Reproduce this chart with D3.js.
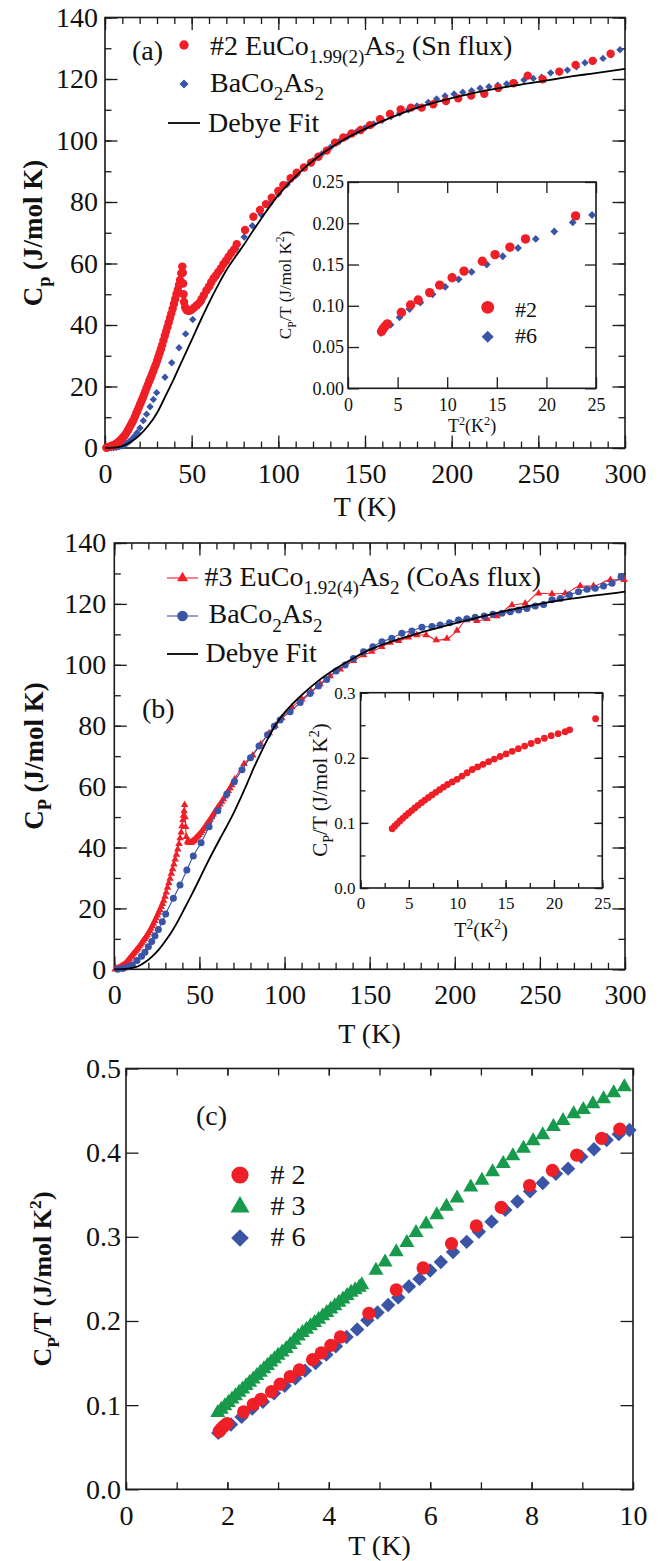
<!DOCTYPE html>
<html>
<head>
<meta charset="utf-8">
<script src="https://cdn.jsdelivr.net/npm/d3@7"></script>
<style>
body { margin: 0; background: #fff; }
text { font-family: "Liberation Serif", "Times New Roman", serif; fill: #111; }
</style>
</head>
<body>
<script>
// ---- panel (a): Cp vs T, #2 EuCo1.99(2)As2 (Sn flux), BaCo2As2, Debye fit
var tA2 = [0.75,1.5,2.25,3,3.75,4.5,5.25,6,6.75,7.5,8.25,9,9.75,10.5,11.25,12,12.75,13.5,14.25,15,15.75,16.5,17.25,18,18.75,19.5,
  20.25,21,21.75,22.5,23.25,24,24.75,25.5,26.25,27,27.75,28.5,29.25,30,30.75,31.5,32.25,33,33.75,34.5,35.25,36,36.75,37.5,
  38.25,39,39.75,40.5,41.25,42,42.7,
  43.3,44,44.6,44.9,45.1,45.3,45.6,46.2,47,48,49,50,
  51.5,53,54.4,55.7,57,58.5,60,61.3,62.7,64,65.3,66.8,68.3,69.8,71.3,72.8,74.5,76,
  80.8,85.6,89.4,92.9,96.2,100,102.9,107.1,110.6,114.8,118.8,123.1,127.9,132.7,137.5,142.3,147.5,152.9,158.7,164.4,
  170.6,176.5,182.7,189.4,196.7,203.8,211.2,218.8,226.9,235.6,243.9,252.5,262.1,271.5,281.3,291.7];
var cA2 = [0.1,0.2,0.35,0.5,0.65,0.8,1.0,1.2,1.5,1.8,2.2,2.6,3.0,3.5,4.0,4.6,5.3,6.0,6.8,7.6,8.4,9.2,10.2,11.2,12.2,13.2,
  14.2,15.2,16.2,17.3,18.4,19.5,20.6,21.7,22.7,23.8,24.9,26.0,27.1,28.3,29.5,30.8,32.1,33.5,35,36.5,37.9,39.3,40.8,42.3,
  43.7,45.2,46.8,48.4,50,51.5,53,
  54.6,56.8,59,57,53.5,50,47.5,45.8,44.9,44.6,44.7,45.0,
  45.7,46.4,47.2,48.4,49.7,51.2,52.5,53.9,55.2,56.1,57.2,58.4,59.8,60.9,62.2,63.4,64.6,66.3,
  70.9,75.2,77.4,79.3,81.4,83.6,85.5,87.7,89.5,91.2,92.8,94.7,96.7,99.3,101,102.3,103.4,105,106.9,108.6,
  110.1,110.7,110.7,111.8,112.8,113.7,114.6,115.2,117.1,118.6,121.1,119.9,122.4,124.6,125.9,128.2];
var tABa = [2,3.5,5,6.5,8,9.5,11,12.5,14,15.5,17,18.5,20.2,22.1,24,26,27.9,29.8,
  34.6,38.5,42.7,46.5,50.6,55.4,60.6,65.8,70.8,75.5,80.3,
  85,90,95,100,105,110,115,120,125,130,135,140,145,150,155,160,165,170,175,180,
  186.5,191.3,196.2,201.4,206.4,211.5,216.4,221.5,226.6,231.7,236.5,241.7,247.1,251.9,257.1,262,266.8,272,276.9,282,287.3,292,297.1];
var cABa = [0,0.05,0.1,0.2,0.4,0.65,1.0,1.5,2.1,2.9,3.8,5.0,6.5,8.9,11,13.4,15.8,18,
  23,27.7,32.6,37.1,41.8,47.3,52.3,57,61.7,64.8,68.6,
  72.3,76,79.4,82.6,85.7,88.5,91.1,93.4,95.6,97.7,99.6,101.3,102.8,104.1,105.4,106.6,107.8,108.9,110,111.2,
  112.4,113.5,114.5,115.1,115.7,116.2,117,117.5,118,118.4,118.8,119.7,120.2,120.6,122,122.3,122.9,124,125.3,126,126.7,127.9,129.5];
var tADeb = [0,5,10,15,20,25,30,35,40,45,50,55,60,65,70,75,80,85,90,95,100,105,110,115,120,125,130,
  140,150,160,170,180,190,200,210,220,230,240,250,260,270,280,290,300];
var cADeb = [0,0.1,0.6,2.0,4.2,7.3,11.4,17.0,22.8,29,35.1,41.3,47.2,52.7,57.8,62,66,70.3,74.5,78.5,82.2,85.4,88.3,91,93.4,95.6,97.6,
  101,103.8,106.3,108.6,110.6,112.3,113.8,115.1,116.3,117.3,118.2,119.1,120,120.9,121.7,122.5,123.3];

// ---- panel (b): Cp vs T, #3 EuCo1.92(4)As2 (CoAs flux), BaCo2As2, Debye fit
var tB3 = [0.5,1.25,2,2.75,3.5,4.25,5,5.75,6.5,7.25,8,8.75,9.5,10.25,11,11.75,12.5,13.25,14,14.75,15.5,16.25,17,17.75,18.5,
  19.25,20,20.75,21.5,22.25,23,23.75,24.5,25.25,26,26.75,27.5,28.25,29,29.75,30.5,31.25,32,32.75,33.5,34.25,35,35.75,36.5,37.25,38,
  38.65,39.3,39.8,40.3,40.65,41,41.3,41.6,41.9,42.3,
  43,43.5,44,44.5,45,45.5,46,46.5,47,47.6,48.3,49,49.8,50.6,51.5,52.4,53.3,54.2,55.2,56.2,
  57.2,58.1,59.1,60.1,61.1,62.1,63.1,64.1,65.1,66,67,68,69,69.9,70.8,
  76.2,81.3,86,91,94.5,98.4,
  104.3,110.1,115.6,120.9,126.8,132.7,140.5,146.4,151.3,157.2,162.1,167,172.8,177.7,183.2,189.1,195.4,201.3,
  207.1,213,218.9,224.8,233.6,241.4,249.2,257.1,264.9,273.7,281.5,291.4,299.5];
var cB3 = [0,0.15,0.3,0.5,0.7,0.95,1.2,1.55,1.9,2.4,2.9,3.4,3.9,4.45,5.0,5.5,6.0,6.5,7.0,7.6,8.2,8.8,9.4,10.0,10.6,
  11.25,11.9,12.65,13.4,14.2,15.0,15.9,16.8,17.7,18.6,19.55,20.5,21.5,22.6,23.9,25.3,26.8,28.3,29.8,31.4,32.9,34.5,36.1,37.7,39.4,41.2,
  43.1,45,47,49,50.5,52,54,50,46.8,43.5,
  42,41.7,41.5,41.5,41.6,41.8,42,42.2,42.5,42.9,43.3,43.7,44.2,44.8,45.4,46.1,46.8,47.6,48.4,49.2,
  50.1,50.9,51.8,52.6,53.4,54.2,55.1,55.9,56.8,57.7,58.6,59.5,60.5,61.5,62.5,
  67.5,70.3,74,77.6,80,82.5,
  86.1,88.7,91.2,93.7,96.3,98.5,101.3,103.2,104.3,105.9,107.3,107.9,109,109.8,109.8,108.1,108.6,111.2,
  114.7,114.4,115.1,116,119.6,120.2,123.5,123.3,123.5,125.9,125.9,127.9,127.9];
var tBBa = [2,5,8,10.6,13.3,16,18,20,22,23.9,25.9,28.2,30.2,34.7,38.6,42.6,46.4,51,55.7,60.8,
  66.1,70.5,75,80,85,90,94,97.4,103.3,109.2,115,119.9,124.8,130.3,135.6,140.5,146.4,151.9,157.2,163,
  168.9,174.8,180.7,186.6,191.4,196.9,202.2,207.1,212,217.3,222.4,227.7,232.6,237.5,242.4,247.3,252.2,257.1,262,267.4,
  272.7,277.7,282.5,287.4,292.4,297.7];
var cBBa = [0,0.3,0.8,1.5,2.9,4.3,5.6,7.4,9.1,11,13.1,15.6,18.2,23.3,27.7,32.6,37.2,41.6,46.8,52.1,
  57.6,61.6,65.5,69.5,73.3,77,79.8,81.9,84.6,87.6,90.6,93,95.2,98,99.9,102.1,104.3,105.9,107.6,108.7,
  110.4,111.1,112.3,112.6,113.1,113.8,114.7,115.1,115.6,116,116.6,116.9,117.4,118,118.5,119.3,119.8,121.4,121.8,122.9,
  124,124.8,125.1,125.9,126.8,128.9];
var tBDeb = [0,5,10,14,18,22,26,30,34,38,42,46,50,54,58,62,66,70,74,78,82,86,90,95,100,105,110,115,120,130,
  140,150,160,170,180,190,200,210,220,230,240,250,260,270,280,290,300];
var cBDeb = [0,0.05,0.4,1.0,2.3,4.1,6.4,9.3,12.6,16.5,20.8,25.1,29.6,34.2,38.6,42.8,46.9,51.2,56,61,66.2,71,75.5,80.5,84.3,87.3,90,92.5,94.8,98.7,
  102,104.9,107.1,108.9,110.6,112.1,113.6,115,116.4,117.7,118.9,120,121,121.8,122.6,123.3,124];

// ---- panel (c): Cp/T vs T for samples #2, #3, #6 (insets use T^2 of the same points)
var tC2 = [1.84,1.88,1.93,1.99,2.32,2.51,2.66,2.87,3.04,3.24,3.42,3.68,3.85,4.04,4.23,4.79,5.33,5.86,6.42,6.91,7.40,7.96,8.41,8.89,9.38,9.74];
var cC2 = [0.069,0.072,0.075,0.078,0.092,0.101,0.107,0.116,0.125,0.134,0.142,0.154,0.162,0.171,0.181,0.209,0.237,0.263,0.292,0.313,0.335,0.361,0.379,0.397,0.417,0.428];
var tC3 = [1.81,1.88,1.95,2.02,2.09,2.16,2.23,2.30,2.37,2.44,2.51,2.58,2.65,2.72,2.79,2.86,2.93,3.00,
  3.08,3.16,3.24,3.32,3.40,3.48,3.56,3.64,3.72,3.80,3.88,3.96,4.04,4.12,4.20,4.28,4.36,4.44,4.52,4.60,4.65,
  4.93,5.11,5.33,5.54,5.72,5.92,6.13,6.32,6.53,6.80,7.02,7.23,7.44,7.63,7.84,8.03,8.22,8.43,8.62,8.83,9.02,9.21,9.42,9.62,9.83];
var cC3 = [0.091,0.095,0.099,0.103,0.107,0.111,0.115,0.119,0.123,0.127,0.131,0.135,0.139,0.143,0.147,0.151,0.155,0.159,
  0.163,0.167,0.172,0.177,0.182,0.186,0.190,0.194,0.198,0.202,0.206,0.210,0.214,0.218,0.222,0.226,0.230,0.234,0.237,0.240,0.243,
  0.260,0.270,0.282,0.293,0.305,0.315,0.326,0.336,0.346,0.359,0.367,0.377,0.387,0.396,0.405,0.414,0.421,0.431,0.438,0.446,0.451,0.458,0.464,0.471,0.478];
var tC6 = [1.82,2.07,2.28,2.49,2.70,2.92,3.13,3.34,3.53,3.74,3.95,4.14,4.35,4.56,4.76,4.96,
  5.17,5.37,5.58,5.79,6.00,6.21,6.45,6.72,6.96,7.21,7.48,7.72,7.97,8.22,8.48,8.72,8.98,9.23,9.48,9.72,9.93];
var cC6 = [0.067,0.077,0.086,0.096,0.104,0.114,0.123,0.132,0.141,0.150,0.160,0.170,0.181,0.190,0.201,0.210,
  0.219,0.228,0.241,0.250,0.260,0.270,0.282,0.294,0.306,0.318,0.332,0.342,0.354,0.364,0.375,0.381,0.395,0.404,0.415,0.422,0.427];

var RED = "#ee1f26", BLUE = "#3a54a6", GREEN = "#179a4b", INK = "#1a1a1a";
var SERIF = '"Liberation Serif", "Times New Roman", serif';

var svg = d3.select("body").append("svg").attr("width", 671).attr("height", 1561);

function zip(t, c) { return t.map((d, i) => ({ x: d, y: c[i] })); }
function sq(t, c) { return zip(t, c).map(d => ({ x: d.x * d.x, y: d.y })).filter(d => d.x <= 25); }
function diamond(h) { return `M0,${-h}L${h},0L0,${h}L${-h},0Z`; }
function triangle(s) { return `M0,${-s * 0.577}L${s / 2},${s * 0.289}L${-s / 2},${s * 0.289}Z`; }

// text with sub/superscripts: parts = [[text, ""|"s"|"u"], ...]
function rich(sel, parts, fs) {
  var shift = 0;
  parts.forEach(p => {
    var t = sel.append("tspan").text(p[0]);
    var want = p[1] == "s" ? fs * 0.3 : p[1] == "u" ? -fs * 0.4 : 0;
    if (want != shift) t.attr("dy", want - shift);
    shift = want;
    if (p[1]) t.attr("font-size", fs * 0.68);
  });
  return sel;
}

// boxed axes, ticks inward on all four sides
function frame(x, y, o) {
  var L = x.range()[0], R = x.range()[1], B = y.range()[0], T = y.range()[1];
  var g = svg.append("g");
  g.append("rect").attr("x", L).attr("y", T).attr("width", R - L).attr("height", B - T)
    .attr("fill", o.fill || "none").attr("stroke", INK).attr("stroke-width", 1.6);
  var sides = [[d3.axisBottom, x, `translate(0,${B})`, o.xMaj, o.xMin],
               [d3.axisTop, x, `translate(0,${T})`, o.xMaj, o.xMin],
               [d3.axisLeft, y, `translate(${L},0)`, o.yMaj, o.yMin],
               [d3.axisRight, y, `translate(${R},0)`, o.yMaj, o.yMin]];
  sides.forEach(s => {
    [[s[3], o.xLen && s[1] == x ? o.xLen : o.major], [s[4] || [], o.minor]].forEach(v => {
      g.append("g").attr("transform", s[2])
        .call(s[0](s[1]).tickValues(v[0]).tickSize(-v[1]).tickFormat(""))
        .call(a => a.select(".domain").remove())
        .selectAll("line").attr("stroke", INK).attr("stroke-width", 1.3);
    });
  });
  g.append("g").attr("transform", `translate(0,${B})`)
    .call(d3.axisBottom(x).tickValues(o.xMaj).tickSize(0).tickPadding(o.xPad).tickFormat(o.xFmt))
    .call(a => { a.select(".domain").remove(); a.selectAll("line").remove(); })
    .selectAll("text").attr("font-size", o.fs).attr("font-family", SERIF).attr("fill", INK);
  g.append("g").attr("transform", `translate(${L},0)`)
    .call(d3.axisLeft(y).tickValues(o.yMaj).tickSize(0).tickPadding(o.yPad).tickFormat(o.yFmt))
    .call(a => { a.select(".domain").remove(); a.selectAll("line").remove(); })
    .selectAll("text").attr("font-size", o.fs).attr("font-family", SERIF).attr("fill", INK);
  return g;
}

function label(x, y, parts, fs, opts) {
  opts = opts || {};
  var t = svg.append("text").attr("font-size", fs).attr("text-anchor", opts.anchor || "start")
    .attr("font-weight", opts.bold ? "bold" : null)
    .attr("transform", `translate(${x},${y})` + (opts.rot ? " rotate(-90)" : ""));
  return rich(t, parts, fs);
}

function dots(data, x, y, r, col) {
  svg.append("g").selectAll("circle").data(data).join("circle")
    .attr("cx", d => x(d.x)).attr("cy", d => y(d.y)).attr("r", r).attr("fill", col);
}
function shapes(data, x, y, path, col) {
  svg.append("g").selectAll("path").data(data).join("path")
    .attr("transform", d => `translate(${x(d.x)},${y(d.y)})`).attr("d", path).attr("fill", col);
}
function curve(data, x, y, col, w) {
  svg.append("path").datum(data).attr("fill", "none").attr("stroke", col).attr("stroke-width", w)
    .attr("d", d3.line().x(d => x(d.x)).y(d => y(d.y)).curve(d3.curveMonotoneX));
}

var ticks300 = d3.range(0, 301, 50), minor300 = d3.range(0, 301, 10);
var ticks140 = d3.range(0, 141, 20), minor140 = d3.range(0, 141, 10);

// ================= panel (a)
var xA = d3.scaleLinear([0, 300], [105, 625]);
var yA = d3.scaleLinear([0, 140], [448, 17.5]);
frame(xA, yA, { xMaj: ticks300, xMin: minor300, yMaj: ticks140, yMin: minor140, major: 12.5, minor: 6.5,
  fs: 28, xPad: 15, yPad: 7, xFmt: d3.format("d"), yFmt: d3.format("d") });
shapes(zip(tABa, cABa), xA, yA, diamond(3.7), BLUE);
dots(zip(tA2, cA2), xA, yA, 4.2, RED);
curve(zip(tADeb, cADeb), xA, yA, "#000", 1.8);

label(365, 516, [["T (K)", ""]], 28, { anchor: "middle" });
label(42, 233, [["C", ""], ["p", "s"], [" (J/mol K)", ""]], 27, { anchor: "middle", rot: true, bold: true });
label(132, 60, [["(a)", ""]], 28);
svg.append("circle").attr("cx", 184).attr("cy", 45).attr("r", 4.7).attr("fill", RED);
label(210, 55, [["#2 EuCo", ""], ["1.99(2)", "s"], ["As", ""], ["2", "s"], [" (Sn flux)", ""]], 28);
svg.append("path").attr("transform", "translate(184,84)").attr("d", diamond(4.6)).attr("fill", BLUE);
label(210, 92, [["BaCo", ""], ["2", "s"], ["As", ""], ["2", "s"]], 28);
svg.append("line").attr("x1", 168).attr("x2", 200).attr("y1", 123).attr("y2", 123).attr("stroke", "#000").attr("stroke-width", 1.8);
label(208, 131.5, [["Debye Fit", ""]], 28);

// inset (a)
var xIa = d3.scaleLinear([0, 25], [348, 596]);
var yIa = d3.scaleLinear([0, 0.25], [388.3, 182]);
frame(xIa, yIa, { xMaj: d3.range(0, 26, 5), yMaj: d3.range(0, 0.26, 0.05), major: 11, minor: 0,
  fs: 18, xPad: 10, yPad: 4, xFmt: d3.format("d"), yFmt: d3.format(".2f"), fill: "#fff" });
shapes(sq(tC6, cC6), xIa, yIa, diamond(3.9), BLUE);
dots(sq(tC2, cC2), xIa, yIa, 4.7, RED);
svg.append("circle").attr("cx", 487.7).attr("cy", 307.3).attr("r", 6.4).attr("fill", RED);
label(515, 316.7, [["#2", ""]], 22);
svg.append("path").attr("transform", "translate(487.7,336.7)").attr("d", diamond(6)).attr("fill", BLUE);
label(515, 343, [["#6", ""]], 22);
label(472, 432, [["T", ""], ["2", "u"], ["(K", ""], ["2", "u"], [")", ""]], 18, { anchor: "middle" });
label(291, 285, [["C", ""], ["P", "s"], ["/T (J/mol K", ""], ["2", "u"], [")", ""]], 17, { anchor: "middle", rot: true });

// ================= panel (b)
var xB = d3.scaleLinear([0, 300], [114.3, 625]);
var yB = d3.scaleLinear([0, 140], [969.3, 543]);
frame(xB, yB, { xMaj: ticks300, xMin: minor300, yMaj: ticks140, yMin: minor140, major: 12.5, minor: 6.5,
  fs: 28, xPad: 15, yPad: 8, xFmt: d3.format("d"), yFmt: d3.format("d") });
curve(zip(tB3, cB3), xB, yB, RED, 1.1);
shapes(zip(tB3, cB3), xB, yB, triangle(7.5), RED);
curve(zip(tBBa, cBBa), xB, yB, BLUE, 1.1);
dots(zip(tBBa, cBBa), xB, yB, 3.5, BLUE);
curve(zip(tBDeb, cBDeb), xB, yB, "#000", 1.8);

label(369.5, 1043, [["T (K)", ""]], 28, { anchor: "middle" });
label(43, 756, [["C", ""], ["P", "s"], [" (J/mol K)", ""]], 27, { anchor: "middle", rot: true, bold: true });
label(142, 718, [["(b)", ""]], 28);
svg.append("line").attr("x1", 167).attr("x2", 198).attr("y1", 578).attr("y2", 578).attr("stroke", RED).attr("stroke-width", 1.1);
svg.append("path").attr("transform", "translate(182.5,578)").attr("d", triangle(11)).attr("fill", RED);
label(204.6, 586, [["#3 EuCo", ""], ["1.92(4)", "s"], ["As", ""], ["2", "s"], [" (CoAs flux)", ""]], 28);
svg.append("line").attr("x1", 167).attr("x2", 198).attr("y1", 616).attr("y2", 616).attr("stroke", BLUE).attr("stroke-width", 1.1);
svg.append("circle").attr("cx", 182.5).attr("cy", 616).attr("r", 5.3).attr("fill", BLUE);
label(208.5, 623.3, [["BaCo", ""], ["2", "s"], ["As", ""], ["2", "s"]], 28);
svg.append("line").attr("x1", 167).attr("x2", 198).attr("y1", 654).attr("y2", 654).attr("stroke", "#000").attr("stroke-width", 1.8);
label(205.5, 662, [["Debye Fit", ""]], 28);

// inset (b)
var xIb = d3.scaleLinear([0, 25], [360.5, 602.3]);
var yIb = d3.scaleLinear([0, 0.3], [888, 692.7]);
frame(xIb, yIb, { xMaj: d3.range(0, 26, 5), xMin: d3.range(0, 26, 2.5), yMaj: [0, 0.1, 0.2, 0.3], yMin: d3.range(0, 0.31, 0.05),
  major: 8, minor: 5, fs: 17, xPad: 9, yPad: 5, xFmt: d3.format("d"), yFmt: d3.format(".1f"), fill: "#fff" });
dots(sq(tC3, cC3), xIb, yIb, 3.4, RED);
label(481, 936.7, [["T", ""], ["2", "u"], ["(K", ""], ["2", "u"], [")", ""]], 20, { anchor: "middle" });
label(327, 790, [["C", ""], ["P", "s"], ["/T (J/mol K", ""], ["2", "u"], [")", ""]], 21, { anchor: "middle", rot: true });

// ================= panel (c)
var xC = d3.scaleLinear([0, 10], [126, 633]);
var yC = d3.scaleLinear([0, 0.5], [1489.3, 1068.5]);
frame(xC, yC, { xMaj: d3.range(0, 11, 2), xMin: d3.range(0, 11, 1), yMaj: d3.range(0, 0.51, 0.1),
  major: 12.5, xLen: 7, minor: 7, fs: 28, xPad: 16, yPad: 5, xFmt: d3.format("d"), yFmt: d3.format(".1f") });
shapes(zip(tC6, cC6), xC, yC, diamond(7.2), BLUE);
dots(zip(tC2, cC2), xC, yC, 6.6, RED);
shapes(zip(tC3, cC3), xC, yC, triangle(15), GREEN);

label(379.5, 1555, [["T (K)", ""]], 28, { anchor: "middle" });
label(51, 1279, [["C", ""], ["P", "s"], ["/T (J/mol K", ""], ["2", "u"], [")", ""]], 26, { anchor: "middle", rot: true, bold: true });
label(196, 1125, [["(c)", ""]], 28);
svg.append("circle").attr("cx", 240).attr("cy", 1175).attr("r", 8.6).attr("fill", RED);
label(270.5, 1184, [["# 2", ""]], 28);
svg.append("path").attr("transform", "translate(240,1207)").attr("d", triangle(19)).attr("fill", GREEN);
label(270.5, 1215, [["# 3", ""]], 28);
svg.append("path").attr("transform", "translate(240,1238)").attr("d", diamond(8.8)).attr("fill", BLUE);
label(270.5, 1246, [["# 6", ""]], 28);
</script>
</body>
</html>
